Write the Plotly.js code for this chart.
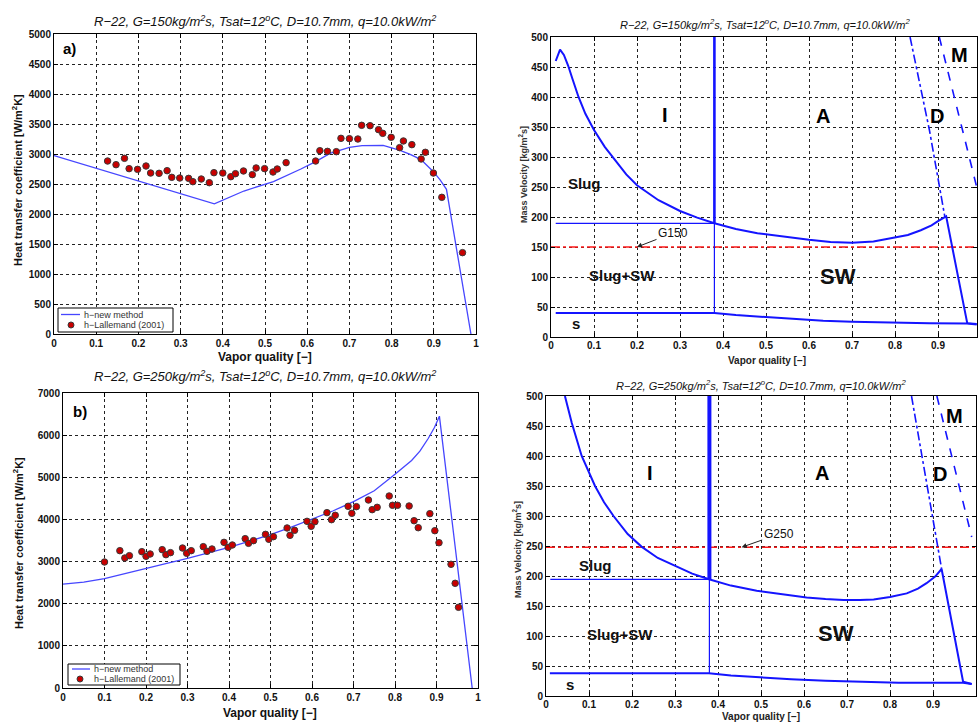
<!DOCTYPE html>
<html>
<head>
<meta charset="utf-8">
<script src="https://cdn.plot.ly/plotly-3.0.1.min.js"></script>
<style>html,body{margin:0;padding:0;background:#fff;}#chart{width:978px;height:722px;}</style>
</head>
<body>
<div id="chart"></div>
<script>
// ---------- Panel a) G=150 heat transfer coefficient ----------
const qA_model = [0.0, 0.38, 0.45, 0.52, 0.585, 0.62, 0.654, 0.68, 0.70, 0.73, 0.765, 0.78, 0.804, 0.82, 0.844, 0.86, 0.875, 0.899, 0.915, 0.93, 0.988];
const hA_model = [2975, 2170, 2383, 2540, 2750, 2872, 3011, 3075, 3111, 3140, 3150, 3145, 3095, 3060, 2994, 2940, 2872, 2705, 2570, 2411, 0];
const qA_exp = [0.127,0.147,0.167,0.178,0.198,0.218,0.229,0.249,0.268,0.279,0.298,0.319,0.329,0.349,0.368,0.379,0.400,0.419,0.430,0.449,0.470,0.479,0.499,0.519,0.529,0.550,0.620,0.630,0.648,0.669,0.680,0.700,0.720,0.729,0.749,0.769,0.779,0.799,0.819,0.828,0.848,0.870,0.880,0.899,0.919,0.968];
const hA_exp = [2883,2822,2928,2756,2744,2800,2683,2678,2722,2611,2600,2594,2539,2583,2522,2689,2683,2622,2672,2717,2656,2767,2756,2700,2750,2856,2883,3055,3044,3039,3261,3256,3250,3478,3472,3406,3344,3278,3106,3217,3156,2917,3028,2683,2278,1356];

// ---------- Panel b) G=250 heat transfer coefficient ----------
const qB_model = [0.0, 0.05, 0.1, 0.15, 0.2, 0.25, 0.3, 0.35, 0.4, 0.45, 0.5, 0.55, 0.6, 0.65, 0.7, 0.75, 0.8, 0.82, 0.84, 0.86, 0.88, 0.895, 0.907, 0.986];
const hB_model = [2465, 2510, 2594, 2710, 2840, 2958, 3077, 3205, 3338, 3485, 3640, 3815, 4003, 4200, 4421, 4680, 5070, 5230, 5400, 5620, 5920, 6180, 6450, 0];
const qB_exp = [0.100,0.137,0.149,0.160,0.190,0.200,0.210,0.239,0.248,0.259,0.288,0.298,0.309,0.338,0.347,0.359,0.388,0.398,0.408,0.439,0.447,0.459,0.488,0.496,0.507,0.540,0.547,0.558,0.588,0.598,0.607,0.636,0.647,0.656,0.687,0.696,0.707,0.736,0.745,0.757,0.786,0.794,0.806,0.834,0.846,0.856,0.884,0.896,0.906,0.935,0.945,0.953];
const hB_exp = [2990,3259,3085,3140,3235,3125,3180,3283,3164,3212,3322,3196,3259,3354,3243,3298,3456,3338,3393,3544,3433,3496,3646,3528,3591,3797,3623,3741,3955,3837,3947,4161,3994,4098,4311,4145,4303,4461,4232,4287,4556,4335,4335,4319,3970,3804,4137,3733,3448,2935,2484,1915];

// ---------- Flow pattern map G=150 ----------
const m1_wavyX = [0.011,0.021,0.03,0.04,0.05,0.064,0.08,0.1,0.125,0.15,0.175,0.2,0.25,0.3,0.34,0.38,0.43,0.48,0.54,0.6,0.65,0.7,0.75,0.79,0.83,0.86,0.885,0.9,0.91,0.919,0.968,0.99];
const m1_wavyY = [460,479,470,452,430,400,372,345,317,293,271,253,228,210,199,189.5,180,173,167,162,158.5,157,159,164,170,178,186,193,197,201,23,21.5];
const m1_stratX = [0.011,0.38,0.43,0.48,0.55,0.633,0.7,0.788,0.88,0.968,0.99];
const m1_stratY = [40,40,36.5,34,30.5,27,25.5,24,23,22.5,21];
const m1_slugX = [0.011,0.38];
const m1_slugY = [189.5,189.5];
const m1_IAX = [0.38,0.38];
const m1_IAY = [189.5,500];
const m1_IAlowY = [40,189.5];
const m1_GX = [0,0.99];
const m1_GY = [150,150];
const m1_dryLX = [0.835,0.88,0.916];
const m1_dryLY = [500,345,200];
const m1_dryRX = [0.903,0.957,0.99];
const m1_dryRY = [500,345,250];

// ---------- Flow pattern map G=250 ----------
const m2_wavyX = [0.044,0.06,0.083,0.1,0.114,0.135,0.157,0.19,0.222,0.26,0.304,0.34,0.379,0.43,0.49,0.55,0.606,0.65,0.692,0.73,0.762,0.8,0.839,0.865,0.885,0.905,0.92,0.97,0.99];
const m2_wavyY = [500,455,400,372,350,323,300,270,249,230,215,204,194.5,184,175.5,169,164,161.5,160,160,161,165,171,179,188,199,211.7,24,20];
const m2_stratX = [0.009,0.379,0.43,0.49,0.57,0.65,0.82,0.97,0.99];
const m2_stratY = [38,38,34,31,28,25.6,22.2,22,20];
const m2_slugX = [0.01,0.38];
const m2_slugY = [194.5,194.5];
const m2_IAX = [0.38,0.38];
const m2_IAY = [194.5,500];
const m2_IAlowY = [38,194.5];
const m2_GX = [0,1];
const m2_GY = [248,248];
const m2_dryLX = [0.85,0.9,0.92];
const m2_dryLY = [500,298,212];
const m2_dryRX = [0.909,0.99];
const m2_dryRY = [500,265];

const xTickVals = [0,0.1,0.2,0.3,0.4,0.5,0.6,0.7,0.8,0.9,1];
const xTickText = ['0','0.1','0.2','0.3','0.4','0.5','0.6','0.7','0.8','0.9','1'];
const legendNames = ['h−new method', 'h−Lallemand (2001)'];

const FF = 'Liberation Sans, Arial, Helvetica, sans-serif';
const leftBlue = '#4646ff';
const mapBlue = '#1414ff';
const dotFill = '#c80000';
const dotEdge = '#3a3a3a';

const traces = [
  {x:qA_model, y:hA_model, xaxis:'x', yaxis:'y', mode:'lines', name:legendNames[0], showlegend:false,
   line:{color:leftBlue, width:1.3}},
  {x:qA_exp, y:hA_exp, xaxis:'x', yaxis:'y', mode:'markers', name:legendNames[1], showlegend:false,
   marker:{size:6.5, color:dotFill, line:{color:dotEdge, width:1}}},
  {x:qB_model, y:hB_model, xaxis:'x3', yaxis:'y3', mode:'lines', name:legendNames[0], showlegend:false,
   line:{color:leftBlue, width:1.3}},
  {x:qB_exp, y:hB_exp, xaxis:'x3', yaxis:'y3', mode:'markers', name:legendNames[1], showlegend:false,
   marker:{size:6.5, color:dotFill, line:{color:dotEdge, width:1}}},

  {x:m1_GX, y:m1_GY, xaxis:'x2', yaxis:'y2', mode:'lines', showlegend:false, line:{color:'#ff1a1a', width:1.5, dash:'dashdot'}},
  {x:m1_wavyX, y:m1_wavyY, xaxis:'x2', yaxis:'y2', mode:'lines', showlegend:false, line:{color:mapBlue, width:2}},
  {x:m1_stratX, y:m1_stratY, xaxis:'x2', yaxis:'y2', mode:'lines', showlegend:false, line:{color:mapBlue, width:2}},
  {x:m1_slugX, y:m1_slugY, xaxis:'x2', yaxis:'y2', mode:'lines', showlegend:false, line:{color:mapBlue, width:1.3}},
  {x:m1_IAX, y:m1_IAY, xaxis:'x2', yaxis:'y2', mode:'lines', showlegend:false, line:{color:mapBlue, width:2.6}},
  {x:m1_IAX, y:m1_IAlowY, xaxis:'x2', yaxis:'y2', mode:'lines', showlegend:false, line:{color:mapBlue, width:1.2}},
  {x:m1_dryLX, y:m1_dryLY, xaxis:'x2', yaxis:'y2', mode:'lines', showlegend:false, line:{color:mapBlue, width:1.6, dash:'dashdot'}},
  {x:m1_dryRX, y:m1_dryRY, xaxis:'x2', yaxis:'y2', mode:'lines', showlegend:false, line:{color:mapBlue, width:1.6, dash:'dash'}},

  {x:m2_GX, y:m2_GY, xaxis:'x4', yaxis:'y4', mode:'lines', showlegend:false, line:{color:'#ff1a1a', width:1.5, dash:'dashdot'}},
  {x:m2_wavyX, y:m2_wavyY, xaxis:'x4', yaxis:'y4', mode:'lines', showlegend:false, line:{color:mapBlue, width:2}},
  {x:m2_stratX, y:m2_stratY, xaxis:'x4', yaxis:'y4', mode:'lines', showlegend:false, line:{color:mapBlue, width:2}},
  {x:m2_slugX, y:m2_slugY, xaxis:'x4', yaxis:'y4', mode:'lines', showlegend:false, line:{color:mapBlue, width:1.3}},
  {x:m2_IAX, y:m2_IAY, xaxis:'x4', yaxis:'y4', mode:'lines', showlegend:false, line:{color:mapBlue, width:4}},
  {x:m2_IAX, y:m2_IAlowY, xaxis:'x4', yaxis:'y4', mode:'lines', showlegend:false, line:{color:mapBlue, width:1.2}},
  {x:m2_dryLX, y:m2_dryLY, xaxis:'x4', yaxis:'y4', mode:'lines', showlegend:false, line:{color:mapBlue, width:1.6, dash:'dashdot'}},
  {x:m2_dryRX, y:m2_dryRY, xaxis:'x4', yaxis:'y4', mode:'lines', showlegend:false, line:{color:mapBlue, width:1.6, dash:'dash'}}
];

function axBase(extra) {
  return Object.assign({
    showline:true, linecolor:'#000', linewidth:1, mirror:'ticks',
    ticks:'inside', ticklen:4, tickcolor:'#000',
    showgrid:true, gridcolor:'#222', griddash:'dot', gridwidth:1,
    zeroline:false, fixedrange:true,
    tickfont:{family:FF, size:10, color:'#111', weight:'bold'}
  }, extra);
}
const px = v => v/978;
const py = v => 1 - v/722;

const titleFont = {family:FF, size:13, color:'#111'};
const smallTitleFont = {family:FF, size:11, color:'#111'};
const regionFont = {family:FF, size:20, color:'#000', weight:'bold'};
const zoneFont = {family:FF, size:15, color:'#111', weight:'bold'};
const legFont = {family:FF, size:9, color:'#333'};

function paperText(text, x, y, font, angle, anchor) {
  return {text:text, xref:'paper', yref:'paper', x:px(x), y:py(y), xanchor:anchor||'center', yanchor:'middle',
          showarrow:false, font:font, textangle:angle||0};
}
function dataText(text, xr, yr, x, y, font) {
  return {text:text, xref:xr, yref:yr, x:x, y:y, xanchor:'center', yanchor:'middle', showarrow:false, font:font};
}

// compact MATLAB-style legend boxes (paper positions)
function legendBox(x0, y0, x1, y1, lineY, lineX0, lineX1, dotX, dotY, textX) {
  const shapes = [
    {type:'rect', xref:'paper', yref:'paper', x0:px(x0), x1:px(x1), y0:py(y1), y1:py(y0),
     line:{color:'#000', width:1}, fillcolor:'#fff', layer:'above'},
    {type:'line', xref:'paper', yref:'paper', x0:px(lineX0), x1:px(lineX1), y0:py(lineY), y1:py(lineY),
     line:{color:leftBlue, width:1.3}, layer:'above'},
    {type:'circle', xref:'paper', yref:'paper', x0:px(dotX-3), x1:px(dotX+3), y0:py(dotY+3), y1:py(dotY-3),
     line:{color:dotEdge, width:1}, fillcolor:dotFill, layer:'above'}
  ];
  const texts = [
    paperText(legendNames[0], textX, lineY, legFont, 0, 'left'),
    paperText(legendNames[1], textX, dotY, legFont, 0, 'left')
  ];
  return {shapes, texts};
}
const legA = legendBox(58, 308, 173, 332, 314.5, 61, 80, 71, 325, 82);
const legB = legendBox(68, 664, 180, 685, 669, 72, 90, 80, 679, 92);

const annotations = [
  paperText('<i>R−22, G=150kg/m<sup>2</sup>s, Tsat=12<sup>o</sup>C, D=10.7mm, q=10.0kW/m<sup>2</sup></i>', 265, 21, titleFont),
  paperText('<i>R−22, G=250kg/m<sup>2</sup>s, Tsat=12<sup>o</sup>C, D=10.7mm, q=10.0kW/m<sup>2</sup></i>', 265, 376, titleFont),
  paperText('<i>R−22, G=150kg/m<sup>2</sup>s, Tsat=12<sup>o</sup>C, D=10.7mm, q=10.0kW/m<sup>2</sup></i>', 765, 24, smallTitleFont),
  paperText('<i>R−22, G=250kg/m<sup>2</sup>s, Tsat=12<sup>o</sup>C, D=10.7mm, q=10.0kW/m<sup>2</sup></i>', 761, 385, smallTitleFont),

  paperText('Heat transfer coefficient [W/m<sup>2</sup>K]', 17, 180, {family:FF, size:11, color:'#111', weight:'bold'}, -90),
  paperText('Heat transfer coefficient [W/m<sup>2</sup>K]', 18, 543, {family:FF, size:11, color:'#111', weight:'bold'}, -90),
  paperText('Mass Velocity [kg/m<sup>2</sup>s]', 523, 175, {family:FF, size:9, color:'#333', weight:'bold'}, -90),
  paperText('Mass Velocity [kg/m<sup>2</sup>s]', 517, 550, {family:FF, size:9, color:'#333', weight:'bold'}, -90),

  paperText('Vapor quality [−]', 265, 357, {family:FF, size:12, color:'#111', weight:'bold'}),
  paperText('Vapor quality [−]', 270, 713, {family:FF, size:12, color:'#111', weight:'bold'}),
  paperText('Vapor quality [−]', 767, 360, {family:FF, size:10, color:'#222', weight:'bold'}),
  paperText('Vapor quality [−]', 761, 716, {family:FF, size:10, color:'#222', weight:'bold'}),

  dataText('a)', 'x', 'y', 0.036, 4750, {family:FF, size:15, color:'#000', weight:'bold'}),
  dataText('b)', 'x3', 'y3', 0.041, 6560, {family:FF, size:15, color:'#000', weight:'bold'}),

  dataText('I', 'x2', 'y2', 0.265, 370, regionFont),
  dataText('A', 'x2', 'y2', 0.633, 368, regionFont),
  dataText('D', 'x2', 'y2', 0.898, 368, regionFont),
  dataText('M', 'x2', 'y2', 0.949, 470, regionFont),
  dataText('Slug', 'x2', 'y2', 0.079, 255, zoneFont),
  dataText('Slug+SW', 'x2', 'y2', 0.165, 103, zoneFont),
  dataText('SW', 'x2', 'y2', 0.667, 100, {family:FF, size:22, color:'#111', weight:'bold'}),
  dataText('s', 'x2', 'y2', 0.058, 22, zoneFont),
  {text:'G150', xref:'x2', yref:'y2', x:0.2, y:150, showarrow:true, arrowhead:2, arrowsize:1, arrowwidth:1,
   arrowcolor:'#222', ax:36, ay:-14, font:{family:FF, size:12, color:'#111'}},

  dataText('I', 'x4', 'y4', 0.242, 372, regionFont),
  dataText('A', 'x4', 'y4', 0.642, 372, regionFont),
  dataText('D', 'x4', 'y4', 0.916, 370, regionFont),
  dataText('M', 'x4', 'y4', 0.951, 467, regionFont),
  dataText('Slug', 'x4', 'y4', 0.116, 218, zoneFont),
  dataText('Slug+SW', 'x4', 'y4', 0.172, 103, zoneFont),
  dataText('SW', 'x4', 'y4', 0.674, 105, {family:FF, size:22, color:'#111', weight:'bold'}),
  dataText('s', 'x4', 'y4', 0.056, 20, zoneFont),
  {text:'G250', xref:'x4', yref:'y4', x:0.455, y:248, showarrow:true, arrowhead:2, arrowsize:1, arrowwidth:1,
   arrowcolor:'#222', ax:37, ay:-13, font:{family:FF, size:12, color:'#111'}}
].concat(legA.texts, legB.texts);

const layout = {
  width:978, height:722, margin:{l:0, r:0, t:0, b:0},
  paper_bgcolor:'#fff', plot_bgcolor:'#fff', showlegend:false,
  xaxis: axBase({domain:[px(54), px(476)], range:[0,1], tickvals:xTickVals, ticktext:xTickText, anchor:'y'}),
  yaxis: axBase({domain:[py(334), py(34)], range:[0,5000], dtick:500, anchor:'x'}),
  xaxis2: axBase({domain:[px(551), px(977)], range:[0,0.9907], tickvals:xTickVals, ticktext:xTickText, anchor:'y2', ticklabelstandoff:-1}),
  yaxis2: axBase({domain:[py(337), py(37)], range:[0,500], dtick:50, anchor:'x2'}),
  xaxis3: axBase({domain:[px(63), px(478)], range:[0,1], tickvals:xTickVals, ticktext:xTickText, anchor:'y3'}),
  yaxis3: axBase({domain:[py(688), py(393)], range:[0,7000], dtick:1000, anchor:'x3'}),
  xaxis4: axBase({domain:[px(546), px(976)], range:[0,1], tickvals:xTickVals, ticktext:xTickText, anchor:'y4', ticklabelstandoff:-1}),
  yaxis4: axBase({domain:[py(696), py(396)], range:[0,500], dtick:50, anchor:'x4'}),
  shapes: legA.shapes.concat(legB.shapes),
  annotations: annotations
};

Plotly.newPlot('chart', traces, layout, {displayModeBar:false, staticPlot:true});
</script>
</body>
</html>
